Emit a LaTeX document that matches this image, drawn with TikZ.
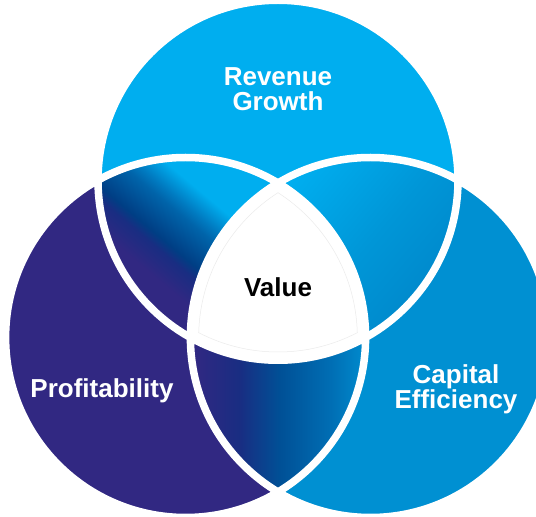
\documentclass[tikz,border=0pt]{standalone}
\usepackage{fontspec}
\setmainfont{Liberation Sans}
\definecolor{revcyan}{RGB}{0,174,239}
\definecolor{profpurple}{RGB}{49,40,130}
\definecolor{capblue}{RGB}{0,144,210}
\definecolor{navyA}{RGB}{25,45,130}
\definecolor{navyB}{RGB}{0,62,132}
\definecolor{navyC}{RGB}{0,100,170}
\definecolor{navyD}{RGB}{0,122,192}
\definecolor{bluemid}{RGB}{0,80,150}
\definecolor{bluelight}{RGB}{0,110,180}
\definecolor{capsoft}{RGB}{0,150,215}
\definecolor{capdeep}{RGB}{0,137,204}
\newcommand{\revcircle}{(278,336.75) circle (180pt)}
\newcommand{\profcircle}{(185.6,179.5) circle (180pt)}
\newcommand{\capcircle}{(370.4,179.5) circle (180pt)}
\pgfdeclarehorizontalshading{revprof}{100bp}{color(0bp)=(profpurple); color(44.5bp)=(profpurple);
  color(48bp)=(navyA); color(49.5bp)=(navyB); color(54bp)=(navyC); color(55.5bp)=(navyD);
  color(58.5bp)=(revcyan); color(100bp)=(revcyan)}
\pgfdeclarehorizontalshading{profcap}{100bp}{color(0bp)=(profpurple); color(26bp)=(profpurple);
  color(39bp)=(navyA); color(50.5bp)=(bluemid); color(65bp)=(bluelight); color(74bp)=(capdeep);
  color(100bp)=(capdeep)}
\pgfdeclarehorizontalshading{revcap}{100bp}{color(0bp)=(revcyan); color(34bp)=(revcyan);
  color(49bp)=(capsoft); color(60bp)=(capdeep); color(100bp)=(capdeep)}
\tikzset{
  ring/.style={draw=white, line width=7.5pt},
  circletext/.style={text=white, align=center, font=\bfseries\fontsize{26}{25}\selectfont}
}
\begin{document}
\begin{tikzpicture}[x=1pt, y=1pt]
  \useasboundingbox (0,0) rectangle (536,517);
  \clip (0,0) rectangle (536,517);
  % the three sets
  \fill[revcyan] \revcircle;
  \fill[profpurple] \profcircle;
  \fill[capblue] \capcircle;
  % pairwise overlaps
  \begin{scope}
    \clip \revcircle; \clip \profcircle;
    \begin{scope}[transform canvas={rotate around={50:(189,260)}}]
      \shade[shading=revprof] (19,90) rectangle (359,430);
    \end{scope}
  \end{scope}
  \begin{scope}
    \clip \profcircle; \clip \capcircle;
    \shade[shading=profcap] (190,20) rectangle (366,340);
  \end{scope}
  \begin{scope}
    \clip \revcircle; \clip \capcircle;
    \begin{scope}[transform canvas={rotate around={-40:(367,258.5)}}]
      \shade[shading=revcap] (197,88.5) rectangle (537,428.5);
    \end{scope}
  \end{scope}
  % centre
  \begin{scope}
    \clip \revcircle; \clip \profcircle; \clip \capcircle;
    \fill[white] (0,0) rectangle (536,517);
  \end{scope}
  \begin{scope}
    \clip (278,336.75) circle (172pt); \clip (185.6,179.5) circle (172pt); \clip (370.4,179.5) circle (172pt);
    \draw[black!8, line width=1pt] (278,336.75) circle (172pt) (185.6,179.5) circle (172pt) (370.4,179.5) circle (172pt);
  \end{scope}
  \draw[ring] \revcircle \profcircle \capcircle;
  % labels
  \node[circletext] (rev) at (278,427.6) {Revenue\\Growth};
  \node[circletext, text=black, anchor=base] (value) at (278,220) {Value};
  \node[circletext, anchor=base] (prof) at (102,119) {Profitability};
  \node[circletext] (cap) at (456,128) {Capital\\Efficiency};
\end{tikzpicture}
\end{document}
